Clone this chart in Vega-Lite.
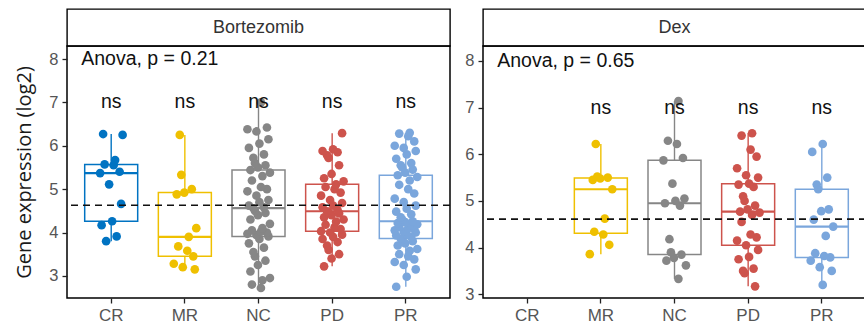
{
  "$schema": "https://vega.github.io/schema/vega-lite/v6.json",
  "background": "white",
  "padding": {"left": 14, "top": 8, "right": 0, "bottom": 0},
  "bounds": "flush",
  "columns": 2,
  "spacing": {"row": 0, "column": 33},
  "config": {
    "view": {"stroke": null},
    "font": "Liberation Sans",
    "axis": {"grid": false, "domain": false, "tickColor": "#222", "tickSize": 5, "tickWidth": 1.3, "labelColor": "#555", "labelFont": "Liberation Sans"}
  },
  "datasets": {
    "sig": [
      {"drug": "Bortezomib", "group": "CR", "sig": "ns"},
      {"drug": "Bortezomib", "group": "MR", "sig": "ns"},
      {"drug": "Bortezomib", "group": "NC", "sig": "ns"},
      {"drug": "Bortezomib", "group": "PD", "sig": "ns"},
      {"drug": "Bortezomib", "group": "PR", "sig": "ns"},
      {"drug": "Dex", "group": "MR", "sig": "ns"},
      {"drug": "Dex", "group": "NC", "sig": "ns"},
      {"drug": "Dex", "group": "PD", "sig": "ns"},
      {"drug": "Dex", "group": "PR", "sig": "ns"}
    ],
    "anova": [
      {"drug": "Bortezomib", "label": "Anova, p = 0.21", "mean": 4.63},
      {"drug": "Dex", "label": "Anova, p = 0.65", "mean": 4.61}
    ],
    "expr": [
      {"drug":"Bortezomib","group":"CR","value":3.80,"sample":5},
      {"drug":"Bortezomib","group":"CR","value":3.91,"sample":12},
      {"drug":"Bortezomib","group":"CR","value":4.17,"sample":2},
      {"drug":"Bortezomib","group":"CR","value":4.26,"sample":9},
      {"drug":"Bortezomib","group":"CR","value":4.66,"sample":15},
      {"drug":"Bortezomib","group":"CR","value":5.11,"sample":7},
      {"drug":"Bortezomib","group":"CR","value":5.37,"sample":1},
      {"drug":"Bortezomib","group":"CR","value":5.40,"sample":14},
      {"drug":"Bortezomib","group":"CR","value":5.55,"sample":10},
      {"drug":"Bortezomib","group":"CR","value":5.57,"sample":4},
      {"drug":"Bortezomib","group":"CR","value":5.67,"sample":11},
      {"drug":"Bortezomib","group":"CR","value":6.25,"sample":16},
      {"drug":"Bortezomib","group":"CR","value":6.27,"sample":3},
      {"drug":"Bortezomib","group":"MR","value":3.15,"sample":15},
      {"drug":"Bortezomib","group":"MR","value":3.20,"sample":7},
      {"drug":"Bortezomib","group":"MR","value":3.28,"sample":1},
      {"drug":"Bortezomib","group":"MR","value":3.45,"sample":14},
      {"drug":"Bortezomib","group":"MR","value":3.58,"sample":10},
      {"drug":"Bortezomib","group":"MR","value":3.68,"sample":4},
      {"drug":"Bortezomib","group":"MR","value":3.90,"sample":11},
      {"drug":"Bortezomib","group":"MR","value":4.10,"sample":16},
      {"drug":"Bortezomib","group":"MR","value":4.88,"sample":3},
      {"drug":"Bortezomib","group":"MR","value":4.92,"sample":8},
      {"drug":"Bortezomib","group":"MR","value":5.00,"sample":13},
      {"drug":"Bortezomib","group":"MR","value":5.33,"sample":6},
      {"drug":"Bortezomib","group":"MR","value":6.25,"sample":5},
      {"drug":"Bortezomib","group":"NC","value":2.72,"sample":10},
      {"drug":"Bortezomib","group":"NC","value":2.80,"sample":4},
      {"drug":"Bortezomib","group":"NC","value":2.90,"sample":11},
      {"drug":"Bortezomib","group":"NC","value":2.95,"sample":16},
      {"drug":"Bortezomib","group":"NC","value":3.10,"sample":3},
      {"drug":"Bortezomib","group":"NC","value":3.25,"sample":8},
      {"drug":"Bortezomib","group":"NC","value":3.35,"sample":13},
      {"drug":"Bortezomib","group":"NC","value":3.45,"sample":6},
      {"drug":"Bortezomib","group":"NC","value":3.55,"sample":5},
      {"drug":"Bortezomib","group":"NC","value":3.65,"sample":12},
      {"drug":"Bortezomib","group":"NC","value":3.75,"sample":2},
      {"drug":"Bortezomib","group":"NC","value":3.85,"sample":9},
      {"drug":"Bortezomib","group":"NC","value":3.91,"sample":15},
      {"drug":"Bortezomib","group":"NC","value":3.94,"sample":7},
      {"drug":"Bortezomib","group":"NC","value":3.97,"sample":1},
      {"drug":"Bortezomib","group":"NC","value":4.00,"sample":14},
      {"drug":"Bortezomib","group":"NC","value":4.02,"sample":10},
      {"drug":"Bortezomib","group":"NC","value":4.05,"sample":4},
      {"drug":"Bortezomib","group":"NC","value":4.10,"sample":11},
      {"drug":"Bortezomib","group":"NC","value":4.20,"sample":16},
      {"drug":"Bortezomib","group":"NC","value":4.30,"sample":3},
      {"drug":"Bortezomib","group":"NC","value":4.40,"sample":8},
      {"drug":"Bortezomib","group":"NC","value":4.45,"sample":13},
      {"drug":"Bortezomib","group":"NC","value":4.50,"sample":6},
      {"drug":"Bortezomib","group":"NC","value":4.56,"sample":5},
      {"drug":"Bortezomib","group":"NC","value":4.58,"sample":12},
      {"drug":"Bortezomib","group":"NC","value":4.62,"sample":2},
      {"drug":"Bortezomib","group":"NC","value":4.70,"sample":9},
      {"drug":"Bortezomib","group":"NC","value":4.75,"sample":15},
      {"drug":"Bortezomib","group":"NC","value":4.85,"sample":7},
      {"drug":"Bortezomib","group":"NC","value":4.95,"sample":1},
      {"drug":"Bortezomib","group":"NC","value":5.00,"sample":14},
      {"drug":"Bortezomib","group":"NC","value":5.05,"sample":10},
      {"drug":"Bortezomib","group":"NC","value":5.20,"sample":4},
      {"drug":"Bortezomib","group":"NC","value":5.30,"sample":11},
      {"drug":"Bortezomib","group":"NC","value":5.38,"sample":16},
      {"drug":"Bortezomib","group":"NC","value":5.44,"sample":3},
      {"drug":"Bortezomib","group":"NC","value":5.50,"sample":8},
      {"drug":"Bortezomib","group":"NC","value":5.55,"sample":13},
      {"drug":"Bortezomib","group":"NC","value":5.60,"sample":6},
      {"drug":"Bortezomib","group":"NC","value":5.72,"sample":5},
      {"drug":"Bortezomib","group":"NC","value":5.80,"sample":12},
      {"drug":"Bortezomib","group":"NC","value":5.95,"sample":2},
      {"drug":"Bortezomib","group":"NC","value":6.05,"sample":9},
      {"drug":"Bortezomib","group":"NC","value":6.15,"sample":15},
      {"drug":"Bortezomib","group":"NC","value":6.33,"sample":7},
      {"drug":"Bortezomib","group":"NC","value":6.38,"sample":1},
      {"drug":"Bortezomib","group":"NC","value":6.42,"sample":14},
      {"drug":"Bortezomib","group":"NC","value":7.00,"sample":10},
      {"drug":"Bortezomib","group":"PD","value":3.22,"sample":3},
      {"drug":"Bortezomib","group":"PD","value":3.40,"sample":8},
      {"drug":"Bortezomib","group":"PD","value":3.50,"sample":13},
      {"drug":"Bortezomib","group":"PD","value":3.60,"sample":6},
      {"drug":"Bortezomib","group":"PD","value":3.70,"sample":5},
      {"drug":"Bortezomib","group":"PD","value":3.78,"sample":12},
      {"drug":"Bortezomib","group":"PD","value":3.85,"sample":2},
      {"drug":"Bortezomib","group":"PD","value":3.90,"sample":9},
      {"drug":"Bortezomib","group":"PD","value":3.95,"sample":15},
      {"drug":"Bortezomib","group":"PD","value":4.00,"sample":7},
      {"drug":"Bortezomib","group":"PD","value":4.03,"sample":1},
      {"drug":"Bortezomib","group":"PD","value":4.08,"sample":14},
      {"drug":"Bortezomib","group":"PD","value":4.12,"sample":10},
      {"drug":"Bortezomib","group":"PD","value":4.18,"sample":4},
      {"drug":"Bortezomib","group":"PD","value":4.25,"sample":11},
      {"drug":"Bortezomib","group":"PD","value":4.30,"sample":16},
      {"drug":"Bortezomib","group":"PD","value":4.35,"sample":3},
      {"drug":"Bortezomib","group":"PD","value":4.40,"sample":8},
      {"drug":"Bortezomib","group":"PD","value":4.44,"sample":13},
      {"drug":"Bortezomib","group":"PD","value":4.47,"sample":6},
      {"drug":"Bortezomib","group":"PD","value":4.49,"sample":5},
      {"drug":"Bortezomib","group":"PD","value":4.52,"sample":12},
      {"drug":"Bortezomib","group":"PD","value":4.58,"sample":2},
      {"drug":"Bortezomib","group":"PD","value":4.62,"sample":9},
      {"drug":"Bortezomib","group":"PD","value":4.68,"sample":15},
      {"drug":"Bortezomib","group":"PD","value":4.75,"sample":7},
      {"drug":"Bortezomib","group":"PD","value":4.85,"sample":1},
      {"drug":"Bortezomib","group":"PD","value":4.92,"sample":14},
      {"drug":"Bortezomib","group":"PD","value":5.00,"sample":10},
      {"drug":"Bortezomib","group":"PD","value":5.05,"sample":4},
      {"drug":"Bortezomib","group":"PD","value":5.11,"sample":11},
      {"drug":"Bortezomib","group":"PD","value":5.18,"sample":16},
      {"drug":"Bortezomib","group":"PD","value":5.25,"sample":3},
      {"drug":"Bortezomib","group":"PD","value":5.35,"sample":8},
      {"drug":"Bortezomib","group":"PD","value":5.55,"sample":13},
      {"drug":"Bortezomib","group":"PD","value":5.72,"sample":6},
      {"drug":"Bortezomib","group":"PD","value":5.78,"sample":5},
      {"drug":"Bortezomib","group":"PD","value":5.85,"sample":12},
      {"drug":"Bortezomib","group":"PD","value":5.88,"sample":2},
      {"drug":"Bortezomib","group":"PD","value":5.92,"sample":9},
      {"drug":"Bortezomib","group":"PD","value":6.29,"sample":15},
      {"drug":"Bortezomib","group":"PR","value":2.75,"sample":2},
      {"drug":"Bortezomib","group":"PR","value":2.98,"sample":9},
      {"drug":"Bortezomib","group":"PR","value":3.15,"sample":15},
      {"drug":"Bortezomib","group":"PR","value":3.25,"sample":7},
      {"drug":"Bortezomib","group":"PR","value":3.32,"sample":1},
      {"drug":"Bortezomib","group":"PR","value":3.38,"sample":14},
      {"drug":"Bortezomib","group":"PR","value":3.45,"sample":10},
      {"drug":"Bortezomib","group":"PR","value":3.50,"sample":4},
      {"drug":"Bortezomib","group":"PR","value":3.58,"sample":11},
      {"drug":"Bortezomib","group":"PR","value":3.62,"sample":16},
      {"drug":"Bortezomib","group":"PR","value":3.70,"sample":3},
      {"drug":"Bortezomib","group":"PR","value":3.75,"sample":8},
      {"drug":"Bortezomib","group":"PR","value":3.80,"sample":13},
      {"drug":"Bortezomib","group":"PR","value":3.83,"sample":6},
      {"drug":"Bortezomib","group":"PR","value":3.86,"sample":5},
      {"drug":"Bortezomib","group":"PR","value":3.90,"sample":12},
      {"drug":"Bortezomib","group":"PR","value":3.93,"sample":2},
      {"drug":"Bortezomib","group":"PR","value":3.96,"sample":9},
      {"drug":"Bortezomib","group":"PR","value":4.00,"sample":15},
      {"drug":"Bortezomib","group":"PR","value":4.02,"sample":7},
      {"drug":"Bortezomib","group":"PR","value":4.05,"sample":1},
      {"drug":"Bortezomib","group":"PR","value":4.08,"sample":14},
      {"drug":"Bortezomib","group":"PR","value":4.10,"sample":10},
      {"drug":"Bortezomib","group":"PR","value":4.13,"sample":4},
      {"drug":"Bortezomib","group":"PR","value":4.16,"sample":11},
      {"drug":"Bortezomib","group":"PR","value":4.19,"sample":16},
      {"drug":"Bortezomib","group":"PR","value":4.22,"sample":3},
      {"drug":"Bortezomib","group":"PR","value":4.24,"sample":8},
      {"drug":"Bortezomib","group":"PR","value":4.26,"sample":13},
      {"drug":"Bortezomib","group":"PR","value":4.30,"sample":6},
      {"drug":"Bortezomib","group":"PR","value":4.35,"sample":5},
      {"drug":"Bortezomib","group":"PR","value":4.42,"sample":12},
      {"drug":"Bortezomib","group":"PR","value":4.48,"sample":2},
      {"drug":"Bortezomib","group":"PR","value":4.55,"sample":9},
      {"drug":"Bortezomib","group":"PR","value":4.62,"sample":15},
      {"drug":"Bortezomib","group":"PR","value":4.70,"sample":7},
      {"drug":"Bortezomib","group":"PR","value":4.78,"sample":1},
      {"drug":"Bortezomib","group":"PR","value":4.90,"sample":14},
      {"drug":"Bortezomib","group":"PR","value":5.00,"sample":10},
      {"drug":"Bortezomib","group":"PR","value":5.10,"sample":4},
      {"drug":"Bortezomib","group":"PR","value":5.20,"sample":11},
      {"drug":"Bortezomib","group":"PR","value":5.28,"sample":16},
      {"drug":"Bortezomib","group":"PR","value":5.32,"sample":3},
      {"drug":"Bortezomib","group":"PR","value":5.38,"sample":8},
      {"drug":"Bortezomib","group":"PR","value":5.45,"sample":13},
      {"drug":"Bortezomib","group":"PR","value":5.50,"sample":6},
      {"drug":"Bortezomib","group":"PR","value":5.55,"sample":5},
      {"drug":"Bortezomib","group":"PR","value":5.60,"sample":12},
      {"drug":"Bortezomib","group":"PR","value":5.70,"sample":2},
      {"drug":"Bortezomib","group":"PR","value":5.80,"sample":9},
      {"drug":"Bortezomib","group":"PR","value":5.88,"sample":15},
      {"drug":"Bortezomib","group":"PR","value":5.95,"sample":7},
      {"drug":"Bortezomib","group":"PR","value":6.00,"sample":1},
      {"drug":"Bortezomib","group":"PR","value":6.10,"sample":14},
      {"drug":"Bortezomib","group":"PR","value":6.22,"sample":10},
      {"drug":"Bortezomib","group":"PR","value":6.28,"sample":4},
      {"drug":"Bortezomib","group":"PR","value":6.30,"sample":11},
      {"drug":"Dex","group":"MR","value":3.86,"sample":1},
      {"drug":"Dex","group":"MR","value":4.06,"sample":14},
      {"drug":"Dex","group":"MR","value":4.28,"sample":10},
      {"drug":"Dex","group":"MR","value":4.34,"sample":4},
      {"drug":"Dex","group":"MR","value":4.62,"sample":11},
      {"drug":"Dex","group":"MR","value":5.25,"sample":16},
      {"drug":"Dex","group":"MR","value":5.45,"sample":3},
      {"drug":"Dex","group":"MR","value":5.48,"sample":8},
      {"drug":"Dex","group":"MR","value":5.50,"sample":13},
      {"drug":"Dex","group":"MR","value":5.52,"sample":6},
      {"drug":"Dex","group":"MR","value":6.22,"sample":5},
      {"drug":"Dex","group":"NC","value":3.33,"sample":11},
      {"drug":"Dex","group":"NC","value":3.62,"sample":16},
      {"drug":"Dex","group":"NC","value":3.72,"sample":3},
      {"drug":"Dex","group":"NC","value":3.78,"sample":8},
      {"drug":"Dex","group":"NC","value":3.85,"sample":13},
      {"drug":"Dex","group":"NC","value":3.90,"sample":6},
      {"drug":"Dex","group":"NC","value":4.18,"sample":5},
      {"drug":"Dex","group":"NC","value":4.90,"sample":12},
      {"drug":"Dex","group":"NC","value":4.95,"sample":2},
      {"drug":"Dex","group":"NC","value":5.00,"sample":9},
      {"drug":"Dex","group":"NC","value":5.05,"sample":15},
      {"drug":"Dex","group":"NC","value":5.37,"sample":7},
      {"drug":"Dex","group":"NC","value":5.87,"sample":1},
      {"drug":"Dex","group":"NC","value":5.92,"sample":14},
      {"drug":"Dex","group":"NC","value":6.22,"sample":10},
      {"drug":"Dex","group":"NC","value":6.29,"sample":4},
      {"drug":"Dex","group":"NC","value":7.14,"sample":11},
      {"drug":"Dex","group":"PD","value":3.17,"sample":13},
      {"drug":"Dex","group":"PD","value":3.45,"sample":6},
      {"drug":"Dex","group":"PD","value":3.50,"sample":5},
      {"drug":"Dex","group":"PD","value":3.55,"sample":12},
      {"drug":"Dex","group":"PD","value":3.75,"sample":2},
      {"drug":"Dex","group":"PD","value":3.80,"sample":9},
      {"drug":"Dex","group":"PD","value":3.95,"sample":15},
      {"drug":"Dex","group":"PD","value":4.05,"sample":7},
      {"drug":"Dex","group":"PD","value":4.15,"sample":1},
      {"drug":"Dex","group":"PD","value":4.22,"sample":14},
      {"drug":"Dex","group":"PD","value":4.28,"sample":10},
      {"drug":"Dex","group":"PD","value":4.55,"sample":4},
      {"drug":"Dex","group":"PD","value":4.70,"sample":11},
      {"drug":"Dex","group":"PD","value":4.75,"sample":16},
      {"drug":"Dex","group":"PD","value":4.77,"sample":3},
      {"drug":"Dex","group":"PD","value":4.82,"sample":8},
      {"drug":"Dex","group":"PD","value":4.90,"sample":13},
      {"drug":"Dex","group":"PD","value":5.00,"sample":6},
      {"drug":"Dex","group":"PD","value":5.10,"sample":5},
      {"drug":"Dex","group":"PD","value":5.30,"sample":12},
      {"drug":"Dex","group":"PD","value":5.35,"sample":2},
      {"drug":"Dex","group":"PD","value":5.37,"sample":9},
      {"drug":"Dex","group":"PD","value":5.50,"sample":15},
      {"drug":"Dex","group":"PD","value":5.55,"sample":7},
      {"drug":"Dex","group":"PD","value":5.70,"sample":1},
      {"drug":"Dex","group":"PD","value":5.95,"sample":14},
      {"drug":"Dex","group":"PD","value":6.10,"sample":10},
      {"drug":"Dex","group":"PD","value":6.40,"sample":4},
      {"drug":"Dex","group":"PD","value":6.45,"sample":11},
      {"drug":"Dex","group":"PR","value":3.20,"sample":9},
      {"drug":"Dex","group":"PR","value":3.50,"sample":15},
      {"drug":"Dex","group":"PR","value":3.58,"sample":7},
      {"drug":"Dex","group":"PR","value":3.72,"sample":1},
      {"drug":"Dex","group":"PR","value":3.79,"sample":14},
      {"drug":"Dex","group":"PR","value":3.82,"sample":10},
      {"drug":"Dex","group":"PR","value":3.88,"sample":4},
      {"drug":"Dex","group":"PR","value":4.25,"sample":11},
      {"drug":"Dex","group":"PR","value":4.45,"sample":16},
      {"drug":"Dex","group":"PR","value":4.60,"sample":3},
      {"drug":"Dex","group":"PR","value":4.78,"sample":8},
      {"drug":"Dex","group":"PR","value":4.82,"sample":13},
      {"drug":"Dex","group":"PR","value":5.25,"sample":6},
      {"drug":"Dex","group":"PR","value":5.35,"sample":5},
      {"drug":"Dex","group":"PR","value":5.50,"sample":12},
      {"drug":"Dex","group":"PR","value":6.05,"sample":2},
      {"drug":"Dex","group":"PR","value":6.22,"sample":9}
    ]
  },
  "concat": [
    {
      "width": 383, "height": 37,
      "view": {"stroke": "black", "strokeWidth": 1.4, "fill": "white"},
      "data": {"values": [{"drug": "Bortezomib"}]},
      "mark": {"type": "text", "fontSize": 18, "color": "#333", "font": "Liberation Sans"},
      "encoding": {"text": {"field": "drug"}}
    },
    {
      "width": 383, "height": 37,
      "view": {"stroke": "black", "strokeWidth": 1.4, "fill": "white"},
      "data": {"values": [{"drug": "Dex"}]},
      "mark": {"type": "text", "fontSize": 18, "color": "#333", "font": "Liberation Sans"},
      "encoding": {"text": {"field": "drug"}}
    },
    {
      "width": 383, "height": 252,
      "view": {"stroke": "black", "strokeWidth": 1.5},
      "data": {"name": "expr"},
      "transform": [{"filter": "datum.drug === 'Bortezomib'"}],
      "layer": [
        {
          "mark": {"type": "rule", "strokeWidth": 1.4},
          "encoding": {
            "x": {"field": "group", "type": "nominal",
              "scale": {"domain": ["CR", "MR", "NC", "PD", "PR"], "paddingInner": 0, "paddingOuter": 0.1},
              "axis": {"title": null, "labelAngle": 0, "labelFontSize": 17, "labelPadding": 4}},
            "y": {"field": "value", "aggregate": "min", "type": "quantitative",
              "scale": {"domain": [2.49, 8.3], "nice": false, "zero": false},
              "axis": {"values": [3, 4, 5, 6, 7, 8], "title": "Gene expression (log2)", "titleFont": "Open Sans", "titleFontSize": 20, "titleFontWeight": "normal", "titleColor": "#1a1a1a", "titlePadding": 14, "labelFontSize": 16.5, "labelPadding": 4}},
            "y2": {"field": "value", "aggregate": "max"},
            "color": {"field": "group", "type": "nominal", "legend": null,
              "scale": {"domain": ["CR", "MR", "NC", "PD", "PR"], "range": ["#0073C2", "#EFC000", "#868686", "#CD534C", "#7AA6DC"]}}
          }
        },
        {
          "mark": {"type": "bar", "fill": "white", "strokeWidth": 1.5, "width": 53},
          "encoding": {
            "x": {"field": "group", "type": "nominal"},
            "y": {"field": "value", "aggregate": "q1", "type": "quantitative"},
            "y2": {"field": "value", "aggregate": "q3"},
            "stroke": {"field": "group", "type": "nominal", "legend": null,
              "scale": {"domain": ["CR", "MR", "NC", "PD", "PR"], "range": ["#0073C2", "#EFC000", "#868686", "#CD534C", "#7AA6DC"]}}
          }
        },
        {
          "mark": {"type": "tick", "thickness": 2.2, "size": 53, "opacity": 1},
          "encoding": {
            "x": {"field": "group", "type": "nominal"},
            "y": {"field": "value", "aggregate": "median", "type": "quantitative"},
            "color": {"field": "group", "type": "nominal", "legend": null}
          }
        },
        {
          "mark": {"type": "circle", "size": 75, "opacity": 1},
          "encoding": {
            "x": {"field": "group", "type": "nominal"},
            "y": {"field": "value", "type": "quantitative"},
            "xOffset": {"field": "sample", "type": "nominal", "scale": {"range": [25, 49]}},
            "color": {"field": "group", "type": "nominal", "legend": null}
          }
        },
        {
          "data": {"name": "anova"},
          "transform": [{"filter": "datum.drug === 'Bortezomib'"}],
          "mark": {"type": "rule", "strokeDash": [7, 5], "strokeWidth": 1.6, "color": "#111"},
          "encoding": {"y": {"field": "mean", "type": "quantitative"}}
        },
        {
          "data": {"name": "sig"},
          "transform": [{"filter": "datum.drug === 'Bortezomib'"}],
          "mark": {"type": "text", "fontSize": 19.5, "color": "#111", "baseline": "middle"},
          "encoding": {"x": {"field": "group", "type": "nominal"}, "y": {"datum": 7}, "text": {"field": "sig"}}
        },
        {
          "data": {"name": "anova"},
          "transform": [{"filter": "datum.drug === 'Bortezomib'"}],
          "mark": {"type": "text", "fontSize": 19.5, "color": "#111", "align": "left", "baseline": "middle", "dx": -30},
          "encoding": {"x": {"datum": "CR"}, "y": {"datum": 8}, "text": {"field": "label"}}
        }
      ]
    },
    {
      "width": 383, "height": 252,
      "view": {"stroke": "black", "strokeWidth": 1.5},
      "data": {"name": "expr"},
      "transform": [{"filter": "datum.drug === 'Dex'"}],
      "layer": [
        {
          "mark": {"type": "rule", "strokeWidth": 1.4},
          "encoding": {
            "x": {"field": "group", "type": "nominal",
              "scale": {"domain": ["CR", "MR", "NC", "PD", "PR"], "paddingInner": 0, "paddingOuter": 0.1},
              "axis": {"title": null, "labelAngle": 0, "labelFontSize": 17, "labelPadding": 4}},
            "y": {"field": "value", "aggregate": "min", "type": "quantitative",
              "scale": {"domain": [2.92, 8.32], "nice": false, "zero": false},
              "axis": {"values": [3, 4, 5, 6, 7, 8], "title": null, "labelFontSize": 16.5, "labelPadding": 4}},
            "y2": {"field": "value", "aggregate": "max"},
            "color": {"field": "group", "type": "nominal", "legend": null,
              "scale": {"domain": ["CR", "MR", "NC", "PD", "PR"], "range": ["#0073C2", "#EFC000", "#868686", "#CD534C", "#7AA6DC"]}}
          }
        },
        {
          "mark": {"type": "bar", "fill": "white", "strokeWidth": 1.5, "width": 53},
          "encoding": {
            "x": {"field": "group", "type": "nominal"},
            "y": {"field": "value", "aggregate": "q1", "type": "quantitative"},
            "y2": {"field": "value", "aggregate": "q3"},
            "stroke": {"field": "group", "type": "nominal", "legend": null,
              "scale": {"domain": ["CR", "MR", "NC", "PD", "PR"], "range": ["#0073C2", "#EFC000", "#868686", "#CD534C", "#7AA6DC"]}}
          }
        },
        {
          "mark": {"type": "tick", "thickness": 2.2, "size": 53, "opacity": 1},
          "encoding": {
            "x": {"field": "group", "type": "nominal"},
            "y": {"field": "value", "aggregate": "median", "type": "quantitative"},
            "color": {"field": "group", "type": "nominal", "legend": null}
          }
        },
        {
          "mark": {"type": "circle", "size": 75, "opacity": 1},
          "encoding": {
            "x": {"field": "group", "type": "nominal"},
            "y": {"field": "value", "type": "quantitative"},
            "xOffset": {"field": "sample", "type": "nominal", "scale": {"range": [25, 49]}},
            "color": {"field": "group", "type": "nominal", "legend": null}
          }
        },
        {
          "data": {"name": "anova"},
          "transform": [{"filter": "datum.drug === 'Dex'"}],
          "mark": {"type": "rule", "strokeDash": [7, 5], "strokeWidth": 1.6, "color": "#111"},
          "encoding": {"y": {"field": "mean", "type": "quantitative"}}
        },
        {
          "data": {"name": "sig"},
          "transform": [{"filter": "datum.drug === 'Dex'"}],
          "mark": {"type": "text", "fontSize": 19.5, "color": "#111", "baseline": "middle"},
          "encoding": {"x": {"field": "group", "type": "nominal"}, "y": {"datum": 7}, "text": {"field": "sig"}}
        },
        {
          "data": {"name": "anova"},
          "transform": [{"filter": "datum.drug === 'Dex'"}],
          "mark": {"type": "text", "fontSize": 19.5, "color": "#111", "align": "left", "baseline": "middle", "dx": -30},
          "encoding": {"x": {"datum": "CR"}, "y": {"datum": 8}, "text": {"field": "label"}}
        }
      ]
    }
  ]
}
